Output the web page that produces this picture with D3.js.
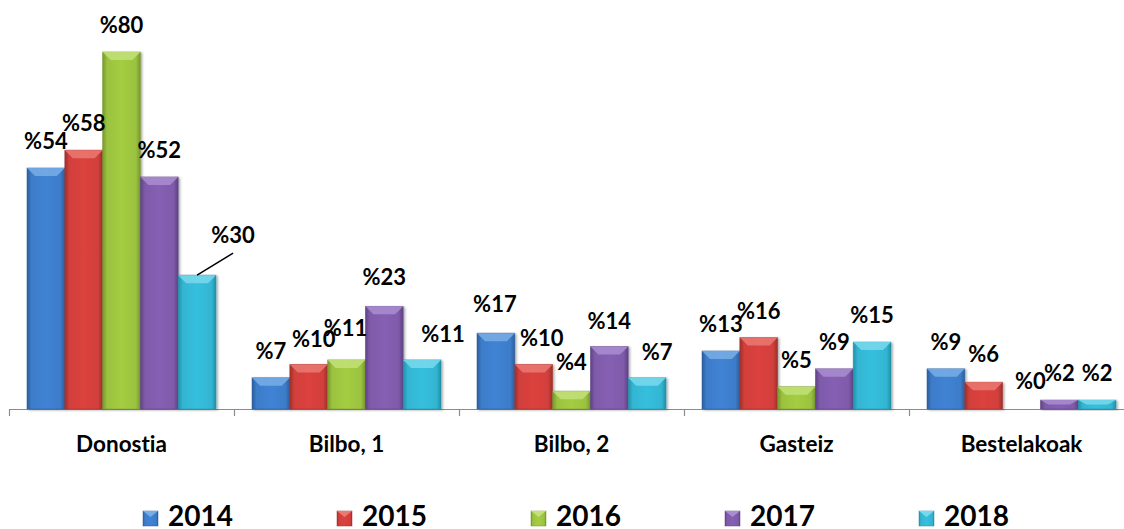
<!DOCTYPE html>
<meta charset="utf-8">
<title>Grouped bars</title>
<style>
  body { margin: 0; background: #fff; }
  text { font-family: Lato, "Open Sans", sans-serif; font-weight: bold; fill: #000; font-variant-ligatures: none; }
</style>
<body>
<script src="https://d3js.org/d3.v7.min.js"></script>
<script>

var width = 1124,
    height = 529;

// data
var categories = ["Donostia", "Bilbo, 1", "Bilbo, 2", "Gasteiz", "Bestelakoak"];
var years = ["2014", "2015", "2016", "2017", "2018"];
var v2014 = [54, 7, 17, 13, 9];
var v2015 = [58, 10, 10, 16, 6];
var v2016 = [80, 11, 4, 5, 0];
var v2017 = [52, 23, 14, 9, 2];
var v2018 = [30, 11, 7, 15, 2];
var seriesValues = [v2014, v2015, v2016, v2017, v2018];

// base, dark edge, light bevel per year
var colors = [
  ["#3d7cc9", "#2c5e9c", "#78aee6"],
  ["#d13f3b", "#9e2f2b", "#ea7a73"],
  ["#9bc23f", "#76982c", "#c3e07a"],
  ["#7f5aaa", "#5e4283", "#a98dd0"],
  ["#33b5d2", "#2390a8", "#79d9ec"]
];

// label nudges (px) where the original labels were moved by hand: key = category index + "-" + year index
var labelNudge = {
  "0-4": [36, -13],
  "1-1": [5, 2],
  "1-2": [-1, -5],
  "1-3": [0, -2],
  "1-4": [21, 1],
  "2-0": [-1, -2],
  "2-1": [8, 1],
  "2-2": [0, -2],
  "2-3": [0, 1],
  "2-4": [10, 1],
  "4-1": [0, -1],
  "4-2": [9, -1]
};

var svg = d3.select("body").append("svg")
    .attr("width", width)
    .attr("height", height);

var defs = svg.append("defs");

colors.forEach(function(c, i) {
  var g = defs.append("linearGradient")
      .attr("id", "grad" + i)
      .attr("x1", "0%").attr("x2", "100%").attr("y1", "0%").attr("y2", "0%");
  g.append("stop").attr("offset", "0%").attr("stop-color", c[1]);
  g.append("stop").attr("offset", "12%").attr("stop-color", c[0]);
  g.append("stop").attr("offset", "50%").attr("stop-color", d3.color(c[0]).brighter(0.15));
  g.append("stop").attr("offset", "88%").attr("stop-color", c[0]);
  g.append("stop").attr("offset", "100%").attr("stop-color", c[1]);
});

var shadow = defs.append("filter").attr("id", "shadow")
    .attr("x", "-20%").attr("y", "-20%").attr("width", "140%").attr("height", "140%");
shadow.append("feDropShadow")
    .attr("dx", 1.5).attr("dy", 1)
    .attr("stdDeviation", 1)
    .attr("flood-color", "#000")
    .attr("flood-opacity", 0.35);

var baseY = 409;

var x0 = d3.scaleBand()
    .domain(categories)
    .range([9, 1134]);

var x1 = d3.scaleBand()
    .domain(years)
    .range([18, x0.bandwidth() - 18]);

var y = d3.scaleLinear()
    .domain([0, 80])
    .range([baseY, 52]);

// x axis
var axis = svg.append("g").attr("class", "axis");
axis.append("line")
    .attr("x1", 9).attr("x2", width)
    .attr("y1", baseY + 0.5).attr("y2", baseY + 0.5)
    .attr("stroke", "#8c8c8c").attr("stroke-width", 1.2);

var tickPos = categories.map(function(c) { return x0(c); });
tickPos.push(x0.range()[1]);
axis.selectAll(".tick")
    .data(tickPos)
  .enter().append("line")
    .attr("x1", function(d) { return Math.round(d) + 0.5; })
    .attr("x2", function(d) { return Math.round(d) + 0.5; })
    .attr("y1", baseY)
    .attr("y2", baseY + 7)
    .attr("stroke", "#8c8c8c").attr("stroke-width", 1.2);

axis.selectAll(".cat")
    .data(categories)
  .enter().append("text")
    .attr("x", function(d) { return x0(d) + x0.bandwidth() / 2; })
    .attr("y", 452)
    .attr("text-anchor", "middle")
    .style("font-size", "22.5px")
    .text(function(d) { return d; });

// bars
var rows = [];
categories.forEach(function(cat, ci) {
  years.forEach(function(yr, si) {
    rows.push({ cat: cat, ci: ci, year: yr, si: si, value: seriesValues[si][ci] });
  });
});

var bar = svg.append("g").selectAll("g")
    .data(rows.filter(function(d) { return d.value > 0; }))
  .enter().append("g")
    .attr("filter", "url(#shadow)");

bar.append("rect")
    .attr("x", function(d) { return x0(d.cat) + x1(d.year); })
    .attr("y", function(d) { return y(d.value); })
    .attr("width", x1.bandwidth())
    .attr("height", function(d) { return baseY - y(d.value); })
    .attr("fill", function(d) { return "url(#grad" + d.si + ")"; })
    .attr("stroke", function(d) { return colors[d.si][1]; })
    .attr("stroke-opacity", 0.6)
    .attr("stroke-width", 0.8);

// bevelled top
bar.append("path")
    .attr("d", function(d) {
      var bx = x0(d.cat) + x1(d.year),
          bw = x1.bandwidth(),
          top = y(d.value),
          h = Math.min(8, (baseY - top) / 2),
          inset = 8;
      return "M" + bx + "," + top +
             "L" + (bx + bw) + "," + top +
             "L" + (bx + bw - inset) + "," + (top + h) +
             "L" + (bx + inset) + "," + (top + h) + "Z";
    })
    .attr("fill", function(d) { return colors[d.si][2]; })
    .attr("fill-opacity", 0.85);

// leader line for the moved Donostia 2018 label
var lead = rows.filter(function(d) { return d.ci === 0 && d.si === 4; })[0];
svg.append("line")
    .attr("x1", x0(lead.cat) + x1(lead.year) + x1.bandwidth() / 2)
    .attr("y1", y(lead.value))
    .attr("x2", x0(lead.cat) + x1(lead.year) + x1.bandwidth() / 2 + 36)
    .attr("y2", y(lead.value) - 22)
    .attr("stroke", "#000")
    .attr("stroke-width", 1.5);

// data labels
svg.append("g").selectAll("text")
    .data(rows)
  .enter().append("text")
    .attr("x", function(d) {
      var n = labelNudge[d.ci + "-" + d.si] || [0, 0];
      return x0(d.cat) + x1(d.year) + x1.bandwidth() / 2 + n[0];
    })
    .attr("y", function(d) {
      var n = labelNudge[d.ci + "-" + d.si] || [0, 0];
      return y(d.value) - 19 + n[1];
    })
    .attr("text-anchor", "middle")
    .style("font-size", "22px")
    .text(function(d) { return "%" + d.value; });

// legend
var legend = svg.append("g").selectAll("g")
    .data(years)
  .enter().append("g")
    .attr("transform", function(d, i) { return "translate(" + (143 + i * 194) + ",511)"; });

legend.append("rect")
    .attr("width", 15).attr("height", 15)
    .attr("fill", function(d, i) { return "url(#grad" + i + ")"; })
    .attr("stroke", function(d, i) { return colors[i][1]; })
    .attr("stroke-opacity", 0.6)
    .attr("stroke-width", 0.8);

legend.append("path")
    .attr("d", "M0,0L15,0L7.5,6Z")
    .attr("fill", function(d, i) { return colors[i][2]; });

legend.append("text")
    .attr("x", 25)
    .attr("y", 15)
    .style("font-size", "28px")
    .text(function(d) { return d; });

</script>
